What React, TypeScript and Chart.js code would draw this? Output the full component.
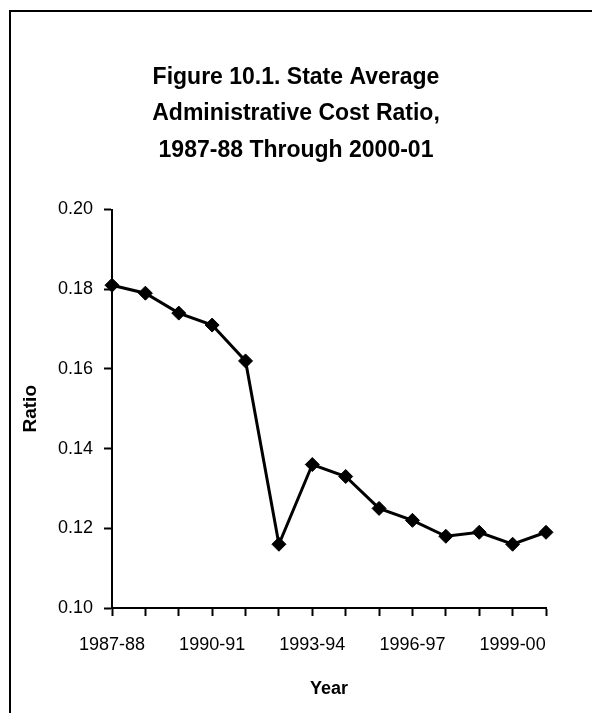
import React, { useEffect, useRef } from "react";
import { Chart, registerables } from "chart.js";

Chart.register(...registerables);

const titleLines = [
  "Figure 10.1. State Average",
  "Administrative Cost Ratio,",
  "1987-88 Through 2000-01",
];
const years = [
  "1987-88", "1988-89", "1989-90", "1990-91", "1991-92", "1992-93", "1993-94",
  "1994-95", "1995-96", "1996-97", "1997-98", "1998-99", "1999-00", "2000-01",
];
const ratios = [
  0.181, 0.179, 0.174, 0.171, 0.162, 0.116, 0.136,
  0.133, 0.125, 0.122, 0.118, 0.119, 0.116, 0.119,
];
const shownLabelIndices = [0, 3, 6, 9, 12];
const yMin = 0.1;
const yMax = 0.2;
const yStep = 0.02;

const FONT = "'Liberation Sans', Arial, Helvetica, sans-serif";

export default function App() {
  const ref = useRef<HTMLCanvasElement | null>(null);

  useEffect(() => {
    if (!ref.current) return;
    const chart = new Chart(ref.current, {
      type: "line",
      data: {
        labels: years,
        datasets: [
          {
            label: "Ratio",
            data: ratios,
            yAxisID: "y",
            borderColor: "#000",
            backgroundColor: "#000",
            borderWidth: 3,
            pointStyle: "rectRot",
            pointRadius: 7,
            pointBorderWidth: 1,
            pointBackgroundColor: "#000",
            pointBorderColor: "#000",
            tension: 0,
            clip: false as any,
          },
        ],
      },
      options: {
        responsive: false,
        animation: false,
        devicePixelRatio: 1,
        layout: { padding: 0 },
        plugins: {
          legend: { display: false },
          tooltip: { enabled: false },
          title: {
            display: true,
            text: titleLines,
            color: "#000",
            font: { family: FONT, size: 23, weight: "bold", lineHeight: 1.587 },
            padding: { top: 59, bottom: 41 },
          },
        },
        scales: {
          x: {
            type: "category",
            offset: false,
            afterFit: (s: any) => {
              s.height = 105;
            },
            border: { display: true, color: "#000", width: 2 },
            grid: {
              display: true,
              drawOnChartArea: false,
              drawTicks: true,
              tickLength: 8,
              tickColor: "#000",
              tickWidth: 2,
              color: "#000",
            },
            ticks: {
              autoSkip: false,
              maxRotation: 0,
              minRotation: 0,
              padding: 18,
              color: "#000",
              font: { family: FONT, size: 18, lineHeight: 1.2 },
              callback: (_v: any, i: number) =>
                shownLabelIndices.includes(i) ? years[i] : "",
            },
            title: {
              display: true,
              text: "Year",
              color: "#000",
              font: { family: FONT, size: 18, weight: "bold", lineHeight: 1.2 },
              padding: { top: 0, bottom: 13 },
            },
          },
          y: {
            min: yMin,
            max: yMax,
            position: "left",
            afterFit: (s: any) => {
              s.width = 112;
            },
            border: { display: true, color: "#000", width: 2 },
            grid: {
              display: true,
              drawOnChartArea: false,
              drawTicks: true,
              tickLength: 8,
              tickColor: "#000",
              tickWidth: 2,
              color: "#000",
            },
            ticks: {
              stepSize: yStep,
              padding: 11,
              color: "#000",
              font: { family: FONT, size: 18, lineHeight: 1.2 },
              callback: (v: any) => Number(v).toFixed(2),
            },
            title: {
              display: true,
              text: "Ratio",
              color: "#000",
              font: { family: FONT, size: 19, weight: "bold", lineHeight: 1.2 },
              padding: { top: 19, bottom: 0 },
            },
          },
          rightSpace: {
            type: "linear",
            position: "right",
            min: yMin,
            max: yMax,
            afterFit: (s: any) => {
              s.width = 46;
            },
            border: { display: false },
            grid: { display: false },
            ticks: { display: false },
            title: { display: false },
          },
        },
      },
    });
    return () => chart.destroy();
  }, []);

  return (
    <div style={{ position: "absolute", left: 0, top: 0, width: 592, height: 713, background: "#fff" }}>
      <div
        style={{
          position: "absolute",
          left: 9,
          top: 10,
          right: 0,
          bottom: 0,
          borderTop: "2px solid #000",
          borderLeft: "2px solid #000",
        }}
      />
      <canvas
        ref={ref}
        width={592}
        height={713}
        style={{ position: "absolute", left: 0, top: 0, width: 592, height: 713 }}
      />
    </div>
  );
}
